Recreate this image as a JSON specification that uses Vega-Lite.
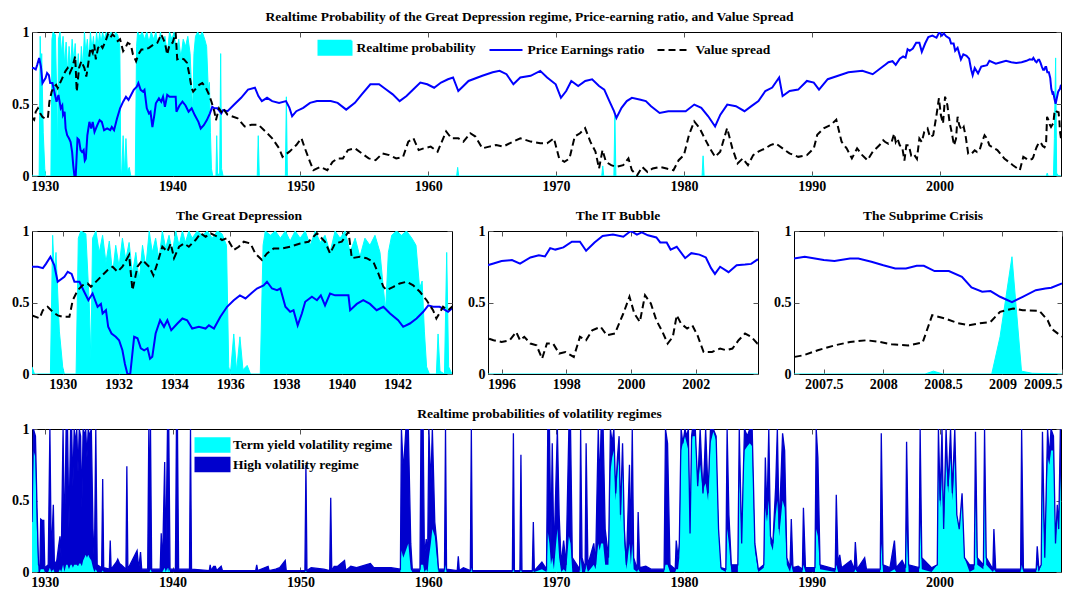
{
"$schema": "https://vega.github.io/schema/vega-lite/v6.json",
"background": "white",
"padding": {"left": 11, "top": 9, "right": 5, "bottom": 5},
"config": {
  "font": "Liberation Serif",
  "view": {"stroke": "black", "strokeWidth": 1},
  "axis": {"domain": false, "grid": false, "ticks": true, "tickSize": -5, "tickColor": "#555", "labelFont": "Liberation Serif", "labelFontSize": 14, "labelFontWeight": "bold", "labelColor": "#000", "title": null, "labelPadding": 8},
  "title": {"font": "Liberation Serif", "fontSize": 13.5, "fontWeight": "bold", "color": "#000", "offset": 2},
  "legend": {"labelFont": "Liberation Serif", "labelFontSize": 13.5, "labelFontWeight": "bold", "labelColor": "#000", "padding": 0}
},
"datasets": {
"pe": [
{"t":1928.90,"v":0.75},{"t":1929.11,"v":0.75},{"t":1929.29,"v":0.74},{"t":1929.40,"v":0.77},{"t":1929.56,"v":0.82},{"t":1929.70,"v":0.76},{"t":1929.82,"v":0.645},{"t":1930.06,"v":0.68},{"t":1930.18,"v":0.715},{"t":1930.32,"v":0.70},{"t":1930.42,"v":0.645},{"t":1930.60,"v":0.645},{"t":1930.77,"v":0.575},{"t":1930.92,"v":0.516},{"t":1931.07,"v":0.563},{"t":1931.25,"v":0.47},{"t":1931.37,"v":0.49},{"t":1931.43,"v":0.423},{"t":1931.55,"v":0.446},{"t":1931.63,"v":0.33},{"t":1931.75,"v":0.283},{"t":1931.90,"v":0.26},{"t":1932.02,"v":0.236},{"t":1932.14,"v":0.166},{"t":1932.23,"v":0.07},{"t":1932.32,"v":0.0},{"t":1932.42,"v":0.0},{"t":1932.56,"v":0.26},{"t":1932.68,"v":0.25},{"t":1932.80,"v":0.18},{"t":1932.92,"v":0.166},{"t":1933.04,"v":0.18},{"t":1933.13,"v":0.107},{"t":1933.21,"v":0.12},{"t":1933.33,"v":0.283},{"t":1933.49,"v":0.376},{"t":1933.63,"v":0.33},{"t":1933.75,"v":0.376},{"t":1933.89,"v":0.306},{"t":1934.11,"v":0.353},{"t":1934.29,"v":0.388},{"t":1934.46,"v":0.376},{"t":1934.64,"v":0.318},{"t":1934.88,"v":0.33},{"t":1935.12,"v":0.318},{"t":1935.24,"v":0.34},{"t":1935.42,"v":0.318},{"t":1935.65,"v":0.40},{"t":1935.89,"v":0.47},{"t":1936.13,"v":0.516},{"t":1936.35,"v":0.55},{"t":1936.55,"v":0.528},{"t":1936.75,"v":0.563},{"t":1936.96,"v":0.598},{"t":1937.20,"v":0.62},{"t":1937.32,"v":0.645},{"t":1937.50,"v":0.598},{"t":1937.68,"v":0.586},{"t":1937.80,"v":0.598},{"t":1937.98,"v":0.47},{"t":1938.15,"v":0.435},{"t":1938.27,"v":0.446},{"t":1938.42,"v":0.34},{"t":1938.57,"v":0.423},{"t":1938.69,"v":0.505},{"t":1938.93,"v":0.54},{"t":1939.11,"v":0.516},{"t":1939.25,"v":0.55},{"t":1939.40,"v":0.48},{"t":1939.58,"v":0.563},{"t":1939.76,"v":0.55},{"t":1939.94,"v":0.55},{"t":1940.24,"v":0.55},{"t":1940.30,"v":0.446},{"t":1940.54,"v":0.49},{"t":1940.77,"v":0.516},{"t":1941.01,"v":0.49},{"t":1941.25,"v":0.446},{"t":1941.49,"v":0.47},{"t":1941.73,"v":0.423},{"t":1942.02,"v":0.376},{"t":1942.20,"v":0.33},{"t":1942.44,"v":0.353},{"t":1942.68,"v":0.388},{"t":1942.92,"v":0.435},{"t":1943.10,"v":0.48},{"t":1943.27,"v":0.47},{"t":1943.51,"v":0.47},{"t":1943.81,"v":0.435},{"t":1943.95,"v":0.458},
{"t":1944.30,"v":0.45},{"t":1944.82,"v":0.496},{"t":1945.36,"v":0.543},{"t":1945.90,"v":0.60},{"t":1946.44,"v":0.613},{"t":1946.71,"v":0.555},{"t":1946.98,"v":0.52},{"t":1947.39,"v":0.543},{"t":1947.79,"v":0.52},{"t":1948.33,"v":0.508},{"t":1948.87,"v":0.52},{"t":1949.14,"v":0.473},{"t":1949.35,"v":0.415},{"t":1949.68,"v":0.45},{"t":1950.22,"v":0.473},{"t":1950.75,"v":0.508},{"t":1951.29,"v":0.52},{"t":1951.83,"v":0.52},{"t":1952.37,"v":0.52},{"t":1952.91,"v":0.508},{"t":1953.58,"v":0.461},{"t":1954.26,"v":0.508},{"t":1954.80,"v":0.567},{"t":1955.47,"v":0.637},{"t":1956.15,"v":0.637},{"t":1956.68,"v":0.602},{"t":1957.22,"v":0.567},{"t":1957.76,"v":0.52},{"t":1958.30,"v":0.555},{"t":1958.84,"v":0.602},{"t":1959.38,"v":0.649},{"t":1959.92,"v":0.637},{"t":1960.46,"v":0.613},{"t":1961.00,"v":0.649},{"t":1961.54,"v":0.672},{"t":1961.94,"v":0.684},{"t":1962.35,"v":0.59},{"t":1962.75,"v":0.625},{"t":1963.15,"v":0.66},{"t":1964.23,"v":0.696},{"t":1965.04,"v":0.72},{"t":1965.58,"v":0.73},{"t":1966.12,"v":0.707},{"t":1966.66,"v":0.637},{"t":1967.20,"v":0.684},{"t":1968.01,"v":0.696},{"t":1968.76,"v":0.73},
{"t":1969.30,"v":0.684},{"t":1969.97,"v":0.637},{"t":1970.38,"v":0.543},{"t":1970.79,"v":0.59},{"t":1971.19,"v":0.66},{"t":1971.73,"v":0.625},{"t":1972.28,"v":0.66},{"t":1972.82,"v":0.672},{"t":1973.36,"v":0.625},{"t":1973.77,"v":0.60},{"t":1974.17,"v":0.52},{"t":1974.53,"v":0.45},{"t":1974.72,"v":0.403},{"t":1975.12,"v":0.473},{"t":1975.53,"v":0.52},{"t":1975.93,"v":0.543},{"t":1976.61,"v":0.53},{"t":1977.02,"v":0.52},{"t":1977.43,"v":0.485},{"t":1978.10,"v":0.438},{"t":1978.78,"v":0.45},{"t":1979.46,"v":0.45},{"t":1980.14,"v":0.45},{"t":1980.81,"v":0.496},{"t":1981.36,"v":0.473},{"t":1981.90,"v":0.415},{"t":1982.44,"v":0.344},{"t":1982.85,"v":0.426},{"t":1983.39,"v":0.496},{"t":1984.07,"v":0.485},{"t":1984.74,"v":0.45},{"t":1985.28,"v":0.485},{"t":1985.83,"v":0.52},{"t":1986.37,"v":0.59},{"t":1986.91,"v":0.614},{"t":1987.45,"v":0.684},{"t":1987.72,"v":0.555},{"t":1988.27,"v":0.59},{"t":1988.94,"v":0.60},{"t":1989.62,"v":0.66},{"t":1990.16,"v":0.649},{"t":1990.57,"v":0.60},{"t":1991.25,"v":0.672},{"t":1992.06,"v":0.696},{"t":1992.87,"v":0.72},{"t":1993.96,"v":0.73},{"t":1994.77,"v":0.707},
{"t":1995.59,"v":0.762},{"t":1995.75,"v":0.773},{"t":1996.00,"v":0.79},{"t":1996.32,"v":0.797},{"t":1996.57,"v":0.772},{"t":1996.89,"v":0.815},{"t":1997.15,"v":0.83},{"t":1997.34,"v":0.822},{"t":1997.50,"v":0.88},{"t":1997.66,"v":0.87},{"t":1997.91,"v":0.885},{"t":1998.17,"v":0.925},{"t":1998.42,"v":0.925},{"t":1998.61,"v":0.862},{"t":1998.87,"v":0.92},{"t":1999.12,"v":0.965},{"t":1999.44,"v":0.975},{"t":1999.76,"v":0.96},{"t":1999.99,"v":1.0},{"t":2000.18,"v":0.975},{"t":2000.33,"v":0.99},{"t":2000.52,"v":0.97},{"t":2000.78,"v":0.955},{"t":2000.90,"v":0.92},{"t":2001.10,"v":0.92},{"t":2001.22,"v":0.87},{"t":2001.41,"v":0.89},{"t":2001.67,"v":0.81},{"t":2001.86,"v":0.845},{"t":2002.11,"v":0.835},{"t":2002.31,"v":0.815},{"t":2002.47,"v":0.74},{"t":2002.59,"v":0.70},{"t":2002.75,"v":0.75},{"t":2003.01,"v":0.712},{"t":2003.26,"v":0.76},{"t":2003.52,"v":0.765},{"t":2003.71,"v":0.77},{"t":2003.90,"v":0.80},
{"t":2004.40,"v":0.78},{"t":2004.80,"v":0.79},{"t":2005.20,"v":0.80},{"t":2005.61,"v":0.79},{"t":2006.00,"v":0.785},{"t":2006.42,"v":0.79},{"t":2006.80,"v":0.80},{"t":2007.05,"v":0.81},
{"t":2007.25,"v":0.808},{"t":2007.34,"v":0.82},{"t":2007.50,"v":0.797},{"t":2007.59,"v":0.79},{"t":2007.72,"v":0.808},{"t":2007.79,"v":0.808},{"t":2007.90,"v":0.785},{"t":2008.00,"v":0.76},{"t":2008.10,"v":0.738},{"t":2008.19,"v":0.738},{"t":2008.28,"v":0.757},{"t":2008.34,"v":0.757},{"t":2008.43,"v":0.72},{"t":2008.55,"v":0.72},{"t":2008.66,"v":0.68},{"t":2008.74,"v":0.605},{"t":2008.83,"v":0.575},{"t":2008.90,"v":0.58},{"t":2008.98,"v":0.54},{"t":2009.08,"v":0.502},{"t":2009.17,"v":0.54},{"t":2009.28,"v":0.586},{"t":2009.36,"v":0.598},{"t":2009.41,"v":0.603},{"t":2009.50,"v":0.633}
],
"vs": [
{"t":1928.90,"v":0.41},{"t":1929.17,"v":0.39},{"t":1929.29,"v":0.446},{"t":1929.46,"v":0.47},{"t":1929.64,"v":0.435},{"t":1929.82,"v":0.41},{"t":1930.00,"v":0.40},{"t":1930.24,"v":0.40},{"t":1930.36,"v":0.516},{"t":1930.54,"v":0.586},{"t":1930.71,"v":0.62},{"t":1930.89,"v":0.633},{"t":1931.01,"v":0.61},{"t":1931.13,"v":0.633},{"t":1931.37,"v":0.68},{"t":1931.61,"v":0.727},{"t":1931.79,"v":0.75},{"t":1931.96,"v":0.715},{"t":1932.14,"v":0.75},{"t":1932.38,"v":0.832},{"t":1932.50,"v":0.586},{"t":1932.68,"v":0.75},{"t":1932.86,"v":0.797},{"t":1933.10,"v":0.75},{"t":1933.25,"v":0.69},{"t":1933.39,"v":0.773},{"t":1933.57,"v":0.89},{"t":1933.75,"v":0.855},{"t":1933.87,"v":0.913},{"t":1933.99,"v":0.81},{"t":1934.17,"v":0.89},{"t":1934.35,"v":0.913},{"t":1934.52,"v":0.89},{"t":1934.76,"v":0.937},{"t":1934.94,"v":0.984},{"t":1935.12,"v":0.96},{"t":1935.30,"v":0.984},{"t":1935.54,"v":0.96},{"t":1935.71,"v":0.937},{"t":1935.89,"v":0.95},{"t":1936.13,"v":0.867},{"t":1936.31,"v":0.89},{"t":1936.49,"v":0.925},{"t":1936.73,"v":0.913},{"t":1936.90,"v":0.843},{"t":1937.14,"v":0.797},{"t":1937.32,"v":0.843},{"t":1937.56,"v":0.878},{"t":1937.86,"v":0.878},{"t":1938.15,"v":0.89},{"t":1938.51,"v":0.913},{"t":1938.81,"v":0.925},{"t":1939.11,"v":0.984},{"t":1939.40,"v":0.925},{"t":1939.58,"v":0.843},{"t":1939.76,"v":0.913},{"t":1940.00,"v":0.925},{"t":1940.24,"v":0.995},{"t":1940.36,"v":0.81},{"t":1940.65,"v":0.82},{"t":1940.89,"v":0.81},{"t":1941.13,"v":0.785},{"t":1941.31,"v":0.703},{"t":1941.49,"v":0.61},{"t":1941.61,"v":0.586},{"t":1941.85,"v":0.61},{"t":1942.08,"v":0.633},{"t":1942.32,"v":0.645},{"t":1942.56,"v":0.62},{"t":1942.80,"v":0.575},{"t":1943.04,"v":0.516},{"t":1943.27,"v":0.446},{"t":1943.39,"v":0.388},{"t":1943.63,"v":0.47},{"t":1943.81,"v":0.446},{"t":1943.95,"v":0.47},
{"t":1944.29,"v":0.426},{"t":1945.09,"v":0.40},{"t":1945.63,"v":0.344},{"t":1946.17,"v":0.356},{"t":1946.71,"v":0.356},{"t":1947.25,"v":0.31},{"t":1947.79,"v":0.262},{"t":1948.33,"v":0.192},{"t":1948.60,"v":0.133},{"t":1949.14,"v":0.169},{"t":1949.68,"v":0.215},{"t":1950.08,"v":0.262},{"t":1950.35,"v":0.192},{"t":1950.75,"v":0.098},{"t":1951.02,"v":0.04},{"t":1951.56,"v":0.063},{"t":1952.10,"v":0.04},{"t":1952.51,"v":0.098},{"t":1952.91,"v":0.122},{"t":1953.32,"v":0.122},{"t":1953.72,"v":0.18},{"t":1954.26,"v":0.192},{"t":1954.80,"v":0.157},{"t":1955.34,"v":0.122},{"t":1955.88,"v":0.11},{"t":1956.42,"v":0.157},{"t":1956.95,"v":0.145},{"t":1957.49,"v":0.122},{"t":1958.03,"v":0.133},{"t":1958.44,"v":0.239},{"t":1958.84,"v":0.262},{"t":1959.25,"v":0.18},{"t":1959.65,"v":0.192},{"t":1960.19,"v":0.204},{"t":1960.73,"v":0.169},{"t":1961.40,"v":0.31},{"t":1961.81,"v":0.262},{"t":1962.35,"v":0.262},{"t":1962.75,"v":0.239},{"t":1963.29,"v":0.297},{"t":1963.69,"v":0.274},{"t":1964.23,"v":0.192},{"t":1964.77,"v":0.204},{"t":1965.31,"v":0.215},{"t":1965.85,"v":0.204},{"t":1966.66,"v":0.239},{"t":1967.20,"v":0.262},{"t":1968.01,"v":0.239},{"t":1968.76,"v":0.227},
{"t":1969.30,"v":0.227},{"t":1969.83,"v":0.262},{"t":1970.24,"v":0.122},{"t":1970.65,"v":0.098},{"t":1971.05,"v":0.122},{"t":1971.46,"v":0.274},{"t":1971.87,"v":0.297},{"t":1972.27,"v":0.333},{"t":1972.68,"v":0.239},{"t":1973.08,"v":0.169},{"t":1973.36,"v":0.052},{"t":1973.63,"v":0.18},{"t":1973.90,"v":0.098},{"t":1974.31,"v":0.075},{"t":1974.71,"v":0.063},{"t":1975.25,"v":0.075},{"t":1975.66,"v":0.122},{"t":1975.93,"v":0.04},{"t":1976.34,"v":0.005},{"t":1976.74,"v":0.063},{"t":1977.15,"v":0.028},{"t":1977.56,"v":0.052},{"t":1978.10,"v":0.063},{"t":1978.64,"v":0.052},{"t":1979.18,"v":0.04},{"t":1979.59,"v":0.11},{"t":1980.00,"v":0.145},{"t":1980.40,"v":0.286},{"t":1980.81,"v":0.379},{"t":1981.22,"v":0.333},{"t":1981.62,"v":0.262},{"t":1982.03,"v":0.192},{"t":1982.44,"v":0.133},{"t":1982.84,"v":0.169},{"t":1983.38,"v":0.333},{"t":1983.79,"v":0.192},{"t":1984.20,"v":0.087},{"t":1984.60,"v":0.122},{"t":1985.01,"v":0.075},{"t":1985.42,"v":0.145},{"t":1985.82,"v":0.169},{"t":1986.37,"v":0.192},{"t":1986.77,"v":0.215},{"t":1987.18,"v":0.227},{"t":1987.72,"v":0.192},{"t":1988.26,"v":0.157},{"t":1988.94,"v":0.133},{"t":1989.62,"v":0.145},{"t":1990.16,"v":0.192},{"t":1990.43,"v":0.286},{"t":1990.97,"v":0.333},{"t":1991.51,"v":0.356},{"t":1991.92,"v":0.391},{"t":1992.33,"v":0.239},{"t":1992.73,"v":0.192},{"t":1993.14,"v":0.122},{"t":1993.55,"v":0.192},{"t":1993.95,"v":0.145},{"t":1994.36,"v":0.11},{"t":1994.77,"v":0.169},{"t":1995.31,"v":0.215},
{"t":1995.59,"v":0.248},{"t":1995.75,"v":0.236},{"t":1996.00,"v":0.224},{"t":1996.25,"v":0.236},{"t":1996.45,"v":0.294},{"t":1996.57,"v":0.236},{"t":1996.70,"v":0.26},{"t":1996.89,"v":0.213},{"t":1997.08,"v":0.20},{"t":1997.25,"v":0.107},{"t":1997.40,"v":0.213},{"t":1997.59,"v":0.213},{"t":1997.78,"v":0.143},{"t":1997.97,"v":0.154},{"t":1998.23,"v":0.119},{"t":1998.42,"v":0.26},{"t":1998.61,"v":0.236},{"t":1998.80,"v":0.306},{"t":1999.06,"v":0.33},{"t":1999.25,"v":0.27},{"t":1999.50,"v":0.283},{"t":1999.76,"v":0.423},{"t":1999.95,"v":0.54},{"t":2000.10,"v":0.423},{"t":2000.27,"v":0.364},{"t":2000.43,"v":0.551},{"t":2000.61,"v":0.493},{"t":2000.78,"v":0.376},{"t":2000.97,"v":0.294},{"t":2001.13,"v":0.213},{"t":2001.29,"v":0.26},{"t":2001.41,"v":0.411},{"t":2001.54,"v":0.353},{"t":2001.73,"v":0.318},{"t":2001.89,"v":0.341},{"t":2002.05,"v":0.271},{"t":2002.24,"v":0.154},{"t":2002.50,"v":0.154},{"t":2002.75,"v":0.178},{"t":2002.94,"v":0.166},{"t":2003.13,"v":0.178},{"t":2003.32,"v":0.236},{"t":2003.52,"v":0.283},{"t":2003.71,"v":0.26},{"t":2003.90,"v":0.213},
{"t":2004.52,"v":0.18},{"t":2005.06,"v":0.122},{"t":2005.74,"v":0.075},{"t":2006.28,"v":0.04},{"t":2006.55,"v":0.133},{"t":2006.96,"v":0.11},
{"t":2007.25,"v":0.119},{"t":2007.33,"v":0.131},{"t":2007.45,"v":0.166},{"t":2007.59,"v":0.20},{"t":2007.72,"v":0.224},{"t":2007.86,"v":0.236},{"t":2007.97,"v":0.224},{"t":2008.07,"v":0.208},{"t":2008.21,"v":0.20},{"t":2008.33,"v":0.22},{"t":2008.41,"v":0.411},{"t":2008.52,"v":0.388},{"t":2008.62,"v":0.357},{"t":2008.72,"v":0.341},{"t":2008.83,"v":0.357},{"t":2008.90,"v":0.364},{"t":2008.98,"v":0.435},{"t":2009.09,"v":0.458},{"t":2009.17,"v":0.446},{"t":2009.31,"v":0.442},{"t":2009.38,"v":0.376},{"t":2009.41,"v":0.318},{"t":2009.50,"v":0.26}
],
"gd": [
{"t":1928.90,"v":0.05},{"t":1928.99,"v":0.0},{"t":1929.56,"v":0.0},{"t":1929.64,"v":0.97},{"t":1929.70,"v":0.7},{"t":1929.76,"v":0.85},{"t":1929.88,"v":0.3},{"t":1930.00,"v":0.05},{"t":1930.06,"v":0.0},{"t":1930.48,"v":0.0},{"t":1930.56,"v":0.95},{"t":1930.65,"v":1.0},{"t":1930.83,"v":0.98},{"t":1930.95,"v":0.5},{"t":1931.01,"v":0.1},{"t":1931.07,"v":0.95},{"t":1931.19,"v":1.0},{"t":1931.31,"v":0.85},{"t":1931.43,"v":0.97},{"t":1931.55,"v":0.78},{"t":1931.67,"v":0.93},{"t":1931.79,"v":0.7},{"t":1931.90,"v":0.9},{"t":1932.02,"v":0.75},{"t":1932.14,"v":0.95},{"t":1932.26,"v":0.8},{"t":1932.38,"v":0.92},{"t":1932.50,"v":0.7},{"t":1932.62,"v":0.85},{"t":1932.74,"v":0.65},{"t":1932.86,"v":0.9},{"t":1932.98,"v":0.75},{"t":1933.10,"v":1.0},{"t":1933.21,"v":0.85},{"t":1933.33,"v":0.95},{"t":1933.45,"v":0.8},{"t":1933.57,"v":1.0},{"t":1933.69,"v":0.88},{"t":1933.81,"v":0.97},{"t":1933.93,"v":0.85},{"t":1934.05,"v":1.0},{"t":1934.17,"v":0.9},{"t":1934.29,"v":1.0},{"t":1934.40,"v":0.92},{"t":1934.52,"v":1.0},{"t":1934.64,"v":0.95},{"t":1934.82,"v":1.0},{"t":1935.00,"v":0.97},{"t":1935.18,"v":1.0},{"t":1935.36,"v":0.95},{"t":1935.54,"v":1.0},{"t":1935.71,"v":0.98},{"t":1935.87,"v":0.9},{"t":1935.95,"v":0.05},{"t":1936.01,"v":0.0},{"t":1936.13,"v":0.28},{"t":1936.23,"v":0.02},{"t":1936.35,"v":0.26},{"t":1936.46,"v":0.03},{"t":1936.61,"v":0.06},{"t":1936.73,"v":0.0},{"t":1937.08,"v":0.0},{"t":1937.18,"v":0.9},{"t":1937.26,"v":1.0},{"t":1937.44,"v":0.97},{"t":1937.62,"v":1.0},{"t":1937.80,"v":0.95},{"t":1937.98,"v":1.0},{"t":1938.15,"v":0.93},{"t":1938.33,"v":1.0},{"t":1938.51,"v":0.95},{"t":1938.69,"v":1.0},{"t":1938.87,"v":0.9},{"t":1939.05,"v":1.0},{"t":1939.23,"v":0.92},{"t":1939.40,"v":0.97},{"t":1939.58,"v":0.85},{"t":1939.76,"v":1.0},{"t":1939.94,"v":0.95},{"t":1940.12,"v":1.0},{"t":1940.30,"v":0.85},{"t":1940.48,"v":0.95},{"t":1940.65,"v":0.82},{"t":1940.83,"v":0.95},{"t":1941.01,"v":0.9},{"t":1941.19,"v":0.97},{"t":1941.37,"v":0.85},{"t":1941.49,"v":0.6},{"t":1941.57,"v":0.45},{"t":1941.67,"v":0.85},{"t":1941.79,"v":0.97},{"t":1941.96,"v":1.0},{"t":1942.14,"v":0.97},{"t":1942.32,"v":1.0},{"t":1942.51,"v":0.95},{"t":1942.66,"v":0.9},{"t":1942.79,"v":0.6},{"t":1942.88,"v":0.65},{"t":1942.96,"v":0.3},{"t":1943.04,"v":0.05},{"t":1943.14,"v":0.0},{"t":1943.39,"v":0.0},{"t":1943.45,"v":0.28},{"t":1943.52,"v":0.02},{"t":1943.68,"v":0.0},{"t":1943.76,"v":0.85},{"t":1943.83,"v":0.05},{"t":1943.95,"v":0.0},
{"t":1946.62,"v":0.0},{"t":1946.70,"v":0.28},{"t":1946.78,"v":0.0},{"t":1948.82,"v":0.0},{"t":1948.90,"v":0.55},{"t":1948.98,"v":0.0},{"t":1962.22,"v":0.0},{"t":1962.30,"v":0.06},{"t":1962.38,"v":0.0},{"t":1973.57,"v":0.0},{"t":1973.65,"v":0.07},{"t":1973.73,"v":0.0},{"t":1974.52,"v":0.0},{"t":1974.60,"v":0.42},{"t":1974.68,"v":0.0},{"t":1981.42,"v":0.0},{"t":1981.50,"v":0.14},{"t":1981.58,"v":0.0},{"t":2008.35,"v":0.0},{"t":2008.42,"v":0.02},{"t":2008.50,"v":0.0},{"t":2008.91,"v":0.0},{"t":2008.98,"v":0.26},{"t":2009.08,"v":0.82},{"t":2009.16,"v":0.02},{"t":2009.25,"v":0.005},{"t":2009.50,"v":0.0}
],
"vol": [
{"t":1929.00,"hv":0.35,"ty":0.33},{"t":1929.11,"hv":1.0,"ty":0.85},{"t":1929.27,"hv":0.95,"ty":0.8},{"t":1929.38,"hv":0.5,"ty":0.3},{"t":1929.51,"hv":0.05,"ty":0},{"t":1929.62,"hv":0.04,"ty":0},{"t":1929.68,"hv":0.37,"ty":0.02},{"t":1929.81,"hv":0.36,"ty":0.02},{"t":1929.92,"hv":0.36,"ty":0.02},{"t":1930.00,"hv":0.03,"ty":0},{"t":1930.27,"hv":0.05,"ty":0},{"t":1930.40,"hv":1.0,"ty":0.03},{"t":1930.51,"hv":0.1,"ty":0},{"t":1930.67,"hv":0.47,"ty":0.02},{"t":1930.75,"hv":0.05,"ty":0},{"t":1930.94,"hv":0.08,"ty":0},{"t":1931.08,"hv":0.18,"ty":0},{"t":1931.19,"hv":0.25,"ty":0.02},{"t":1931.29,"hv":0.1,"ty":0},{"t":1931.43,"hv":1.0,"ty":0.05},{"t":1931.54,"hv":0.2,"ty":0},{"t":1931.67,"hv":1.0,"ty":0.05},{"t":1931.78,"hv":1.0,"ty":0.05},{"t":1931.89,"hv":0.3,"ty":0.02},{"t":1932.02,"hv":1.0,"ty":0.05},{"t":1932.10,"hv":1.0,"ty":0.05},{"t":1932.20,"hv":0.6,"ty":0.03},{"t":1932.30,"hv":1.0,"ty":0.05},{"t":1932.40,"hv":0.9,"ty":0.05},{"t":1932.50,"hv":1.0,"ty":0.05},{"t":1932.60,"hv":0.7,"ty":0.04},{"t":1932.70,"hv":1.0,"ty":0.06},{"t":1932.80,"hv":0.95,"ty":0.06},{"t":1932.90,"hv":0.45,"ty":0.04},{"t":1933.00,"hv":1.0,"ty":0.08},{"t":1933.10,"hv":0.95,"ty":0.1},{"t":1933.20,"hv":1.0,"ty":0.12},{"t":1933.30,"hv":0.8,"ty":0.1},{"t":1933.40,"hv":1.0,"ty":0.12},{"t":1933.50,"hv":0.95,"ty":0.1},{"t":1933.64,"hv":1.0,"ty":0.08},{"t":1933.77,"hv":0.3,"ty":0.03},{"t":1933.88,"hv":0.05,"ty":0},{"t":1933.99,"hv":1.0,"ty":0.02},{"t":1934.10,"hv":0.05,"ty":0},{"t":1934.45,"hv":0.03,"ty":0},{"t":1934.53,"hv":0.65,"ty":0.01},{"t":1934.61,"hv":0.03,"ty":0},{"t":1935.05,"hv":0.02,"ty":0},{"t":1935.12,"hv":0.22,"ty":0},{"t":1935.19,"hv":0.02,"ty":0},{"t":1935.61,"hv":0.07,"ty":0},{"t":1935.71,"hv":0.09,"ty":0},{"t":1935.85,"hv":0.06,"ty":0},{"t":1935.98,"hv":0.05,"ty":0},{"t":1936.35,"hv":0.02,"ty":0},{"t":1936.42,"hv":0.74,"ty":0},{"t":1936.50,"hv":0.02,"ty":0},{"t":1937.22,"hv":0.15,"ty":0},{"t":1937.35,"hv":0.02,"ty":0},{"t":1937.49,"hv":0.14,"ty":0},{"t":1937.58,"hv":0.02,"ty":0},{"t":1938.05,"hv":0.02,"ty":0},{"t":1938.14,"hv":1.0,"ty":0},{"t":1938.20,"hv":0.3,"ty":0},{"t":1938.27,"hv":1.0,"ty":0.02},{"t":1938.36,"hv":0.02,"ty":0},{"t":1939.03,"hv":0.02,"ty":0},{"t":1939.11,"hv":0.27,"ty":0},{"t":1939.20,"hv":0.02,"ty":0},{"t":1939.38,"hv":0.77,"ty":0.03},{"t":1939.46,"hv":0.05,"ty":0},{"t":1939.60,"hv":1.0,"ty":0.03},{"t":1939.65,"hv":0.6,"ty":0},{"t":1939.70,"hv":1.0,"ty":0.03},{"t":1939.80,"hv":0.02,"ty":0},{"t":1940.22,"hv":0.02,"ty":0},{"t":1940.30,"hv":1.0,"ty":0},{"t":1940.34,"hv":0.5,"ty":0},{"t":1940.38,"hv":1.0,"ty":0},{"t":1940.47,"hv":0.02,"ty":0},{"t":1941.32,"hv":0.02,"ty":0},{"t":1941.40,"hv":1.0,"ty":0},{"t":1941.48,"hv":0.02,"ty":0},{"t":1942.87,"hv":0.01,"ty":0},{"t":1942.94,"hv":0.05,"ty":0},{"t":1943.01,"hv":0.01,"ty":0},{"t":1943.21,"hv":0.04,"ty":0},{"t":1943.34,"hv":0.04,"ty":0},{"t":1943.45,"hv":0.01,"ty":0},{"t":1943.80,"hv":0.04,"ty":0},{"t":1943.90,"hv":0.01,"ty":0},{"t":1946.50,"hv":0.01,"ty":0},{"t":1946.58,"hv":0.05,"ty":0},{"t":1946.66,"hv":0.01,"ty":0},{"t":1947.47,"hv":0.04,"ty":0},{"t":1947.55,"hv":0.01,"ty":0},{"t":1948.06,"hv":0.02,"ty":0},{"t":1948.38,"hv":0.03,"ty":0},{"t":1948.81,"hv":0.08,"ty":0},{"t":1948.89,"hv":0.01,"ty":0},{"t":1950.35,"hv":0.01,"ty":0},{"t":1950.43,"hv":0.75,"ty":0.01},{"t":1950.51,"hv":0.01,"ty":0},{"t":1950.84,"hv":0.03,"ty":0},{"t":1951.83,"hv":0.02,"ty":0},{"t":1952.29,"hv":0.01,"ty":0},{"t":1952.37,"hv":0.52,"ty":0},{"t":1952.45,"hv":0.01,"ty":0},{"t":1952.64,"hv":0.04,"ty":0},{"t":1952.91,"hv":0.04,"ty":0},{"t":1953.45,"hv":0.08,"ty":0},{"t":1953.55,"hv":0.01,"ty":0},{"t":1953.94,"hv":0.04,"ty":0},{"t":1954.39,"hv":0.03,"ty":0},{"t":1955.47,"hv":0.06,"ty":0},{"t":1955.74,"hv":0.03,"ty":0},{"t":1957.09,"hv":0.03,"ty":0},{"t":1957.82,"hv":0.02,"ty":0},{"t":1957.90,"hv":1.0,"ty":0.15},{"t":1958.05,"hv":0.7,"ty":0.1},{"t":1958.25,"hv":1.0,"ty":0.15},{"t":1958.44,"hv":1.0,"ty":0.2},{"t":1958.63,"hv":0.2,"ty":0.02},{"t":1958.75,"hv":0.02,"ty":0},{"t":1959.35,"hv":0.02,"ty":0},{"t":1959.43,"hv":1.0,"ty":0.05},{"t":1959.60,"hv":1.0,"ty":0.05},{"t":1959.70,"hv":0.1,"ty":0},{"t":1959.84,"hv":0.23,"ty":0.02},{"t":1959.95,"hv":0.1,"ty":0},{"t":1960.05,"hv":1.0,"ty":0.1},{"t":1960.20,"hv":0.6,"ty":0.2},{"t":1960.32,"hv":1.0,"ty":0.3},{"t":1960.51,"hv":0.35,"ty":0.25},{"t":1960.67,"hv":0.2,"ty":0.1},{"t":1960.80,"hv":0.02,"ty":0},{"t":1961.27,"hv":0.02,"ty":0},{"t":1961.35,"hv":1.0,"ty":0.05},{"t":1961.43,"hv":0.02,"ty":0},{"t":1962.27,"hv":0.01,"ty":0},{"t":1962.35,"hv":0.11,"ty":0},{"t":1962.43,"hv":0.01,"ty":0},{"t":1962.75,"hv":0.03,"ty":0},{"t":1963.29,"hv":0.01,"ty":0},{"t":1963.37,"hv":1.0,"ty":0.03},{"t":1963.45,"hv":0.01,"ty":0},{"t":1966.58,"hv":0.01,"ty":0},{"t":1966.66,"hv":0.97,"ty":0.02},{"t":1966.74,"hv":0.01,"ty":0},{"t":1967.17,"hv":0.01,"ty":0},{"t":1967.25,"hv":0.82,"ty":0.02},{"t":1967.33,"hv":0.01,"ty":0},{"t":1968.14,"hv":0.01,"ty":0},{"t":1968.22,"hv":0.35,"ty":0.01},{"t":1968.30,"hv":0.01,"ty":0},
{"t":1968.89,"hv":0.07,"ty":0.02},{"t":1969.25,"hv":0.02,"ty":0},{"t":1969.35,"hv":1.0,"ty":0.28},{"t":1969.48,"hv":1.0,"ty":0.2},{"t":1969.60,"hv":0.2,"ty":0.05},{"t":1969.70,"hv":0.9,"ty":0.1},{"t":1969.83,"hv":0.1,"ty":0.02},{"t":1970.10,"hv":1.0,"ty":0.3},{"t":1970.24,"hv":0.4,"ty":0.1},{"t":1970.40,"hv":0.05,"ty":0},{"t":1970.59,"hv":0.22,"ty":0.02},{"t":1970.78,"hv":0.05,"ty":0},{"t":1971.00,"hv":1.0,"ty":0.25},{"t":1971.13,"hv":1.0,"ty":0.2},{"t":1971.27,"hv":0.1,"ty":0},{"t":1971.84,"hv":0.02,"ty":0},{"t":1971.92,"hv":1.0,"ty":0.1},{"t":1972.03,"hv":0.1,"ty":0},{"t":1972.27,"hv":0.02,"ty":0},{"t":1972.35,"hv":0.9,"ty":0.05},{"t":1972.49,"hv":0.05,"ty":0},{"t":1972.95,"hv":0.2,"ty":0.05},{"t":1973.09,"hv":0.05,"ty":0.02},{"t":1973.30,"hv":1.0,"ty":0.2},{"t":1973.41,"hv":0.6,"ty":0.15},{"t":1973.52,"hv":1.0,"ty":0.2},{"t":1973.68,"hv":1.0,"ty":0.2},{"t":1973.84,"hv":0.3,"ty":0.05},{"t":1974.10,"hv":0.1,"ty":0.05},{"t":1974.25,"hv":1.0,"ty":0.7},{"t":1974.39,"hv":0.9,"ty":0.8},{"t":1974.52,"hv":1.0,"ty":0.85},{"t":1974.66,"hv":0.55,"ty":0.5},{"t":1974.80,"hv":0.8,"ty":0.7},{"t":1974.93,"hv":0.95,"ty":0.8},{"t":1975.04,"hv":0.4,"ty":0.35},{"t":1975.20,"hv":0.9,"ty":0.75},{"t":1975.34,"hv":0.3,"ty":0.2},{"t":1975.50,"hv":0.05,"ty":0.02},{"t":1975.74,"hv":0.75,"ty":0.2},{"t":1975.85,"hv":0.2,"ty":0.05},{"t":1975.96,"hv":1.0,"ty":0.2},{"t":1976.07,"hv":0.1,"ty":0.02},{"t":1976.34,"hv":0.02,"ty":0},{"t":1976.42,"hv":0.42,"ty":0.02},{"t":1976.55,"hv":0.03,"ty":0},{"t":1977.02,"hv":0.04,"ty":0},{"t":1977.42,"hv":0.02,"ty":0},{"t":1978.10,"hv":0.02,"ty":0},{"t":1978.45,"hv":0.02,"ty":0},{"t":1978.56,"hv":1.0,"ty":0.05},{"t":1978.72,"hv":0.9,"ty":0.05},{"t":1978.91,"hv":0.05,"ty":0},{"t":1979.32,"hv":0.02,"ty":0},{"t":1979.40,"hv":0.22,"ty":0.02},{"t":1979.54,"hv":0.1,"ty":0.02},{"t":1979.64,"hv":0.2,"ty":0.1},{"t":1979.78,"hv":1.0,"ty":0.85},{"t":1979.92,"hv":0.9,"ty":0.9},{"t":1980.08,"hv":1.0,"ty":0.95},{"t":1980.22,"hv":0.95,"ty":0.9},{"t":1980.35,"hv":1.0,"ty":0.85},{"t":1980.48,"hv":0.27,"ty":0.27},{"t":1980.60,"hv":0.95,"ty":0.9},{"t":1980.67,"hv":1.0,"ty":0.95},{"t":1980.89,"hv":1.0,"ty":0.95},{"t":1981.08,"hv":0.6,"ty":0.6},{"t":1981.27,"hv":1.0,"ty":0.75},{"t":1981.49,"hv":0.55,"ty":0.55},{"t":1981.60,"hv":0.75,"ty":0.6},{"t":1981.70,"hv":1.0,"ty":0.62},{"t":1981.89,"hv":0.55,"ty":0.5},{"t":1982.08,"hv":1.0,"ty":0.9},{"t":1982.30,"hv":1.0,"ty":0.98},{"t":1982.52,"hv":0.95,"ty":0.92},{"t":1982.71,"hv":0.3,"ty":0.3},{"t":1982.90,"hv":0.03,"ty":0.02},{"t":1983.28,"hv":0.02,"ty":0},{"t":1983.38,"hv":1.0,"ty":0.3},{"t":1983.52,"hv":0.4,"ty":0.2},{"t":1983.71,"hv":0.05,"ty":0},{"t":1984.22,"hv":0.05,"ty":0},{"t":1984.33,"hv":1.0,"ty":0.7},{"t":1984.52,"hv":0.2,"ty":0.2},{"t":1984.62,"hv":0.6,"ty":0.6},{"t":1984.74,"hv":1.0,"ty":0.85},{"t":1984.96,"hv":0.95,"ty":0.88},{"t":1985.15,"hv":1.0,"ty":0.9},{"t":1985.34,"hv":1.0,"ty":0.88},{"t":1985.55,"hv":0.2,"ty":0.15},{"t":1985.82,"hv":0.02,"ty":0},{"t":1986.25,"hv":0.05,"ty":0.03},{"t":1986.37,"hv":0.8,"ty":0.45},{"t":1986.50,"hv":0.4,"ty":0.35},{"t":1986.64,"hv":1.0,"ty":0.5},{"t":1986.77,"hv":0.25,"ty":0.2},{"t":1986.96,"hv":0.2,"ty":0.15},{"t":1987.18,"hv":0.6,"ty":0.4},{"t":1987.31,"hv":1.0,"ty":0.5},{"t":1987.45,"hv":0.3,"ty":0.25},{"t":1987.72,"hv":0.97,"ty":0.5},{"t":1987.88,"hv":0.85,"ty":0.45},{"t":1988.05,"hv":0.1,"ty":0.05},{"t":1988.30,"hv":0.03,"ty":0},{"t":1988.40,"hv":0.37,"ty":0.05},{"t":1988.53,"hv":0.03,"ty":0},{"t":1988.94,"hv":0.04,"ty":0},{"t":1989.27,"hv":0.02,"ty":0},{"t":1989.35,"hv":0.45,"ty":0.05},{"t":1989.51,"hv":0.03,"ty":0},{"t":1990.25,"hv":0.03,"ty":0},{"t":1990.35,"hv":1.0,"ty":0.3},{"t":1990.48,"hv":0.8,"ty":0.25},{"t":1990.65,"hv":0.05,"ty":0.02},{"t":1991.84,"hv":0.02,"ty":0},{"t":1991.92,"hv":0.54,"ty":0.05},{"t":1992.06,"hv":0.05,"ty":0},{"t":1992.19,"hv":0.12,"ty":0},{"t":1992.33,"hv":0.03,"ty":0},{"t":1993.06,"hv":0.08,"ty":0},{"t":1993.33,"hv":0.02,"ty":0},{"t":1993.41,"hv":0.21,"ty":0.02},{"t":1993.55,"hv":0.02,"ty":0},{"t":1994.14,"hv":0.1,"ty":0},{"t":1994.28,"hv":0.02,"ty":0},{"t":1995.36,"hv":0.02,"ty":0},{"t":1995.44,"hv":0.97,"ty":0.2},{"t":1995.58,"hv":0.05,"ty":0},{"t":1996.12,"hv":0.03,"ty":0},{"t":1996.47,"hv":0.22,"ty":0.02},{"t":1996.61,"hv":0.03,"ty":0},{"t":1997.07,"hv":0.08,"ty":0},{"t":1997.34,"hv":0.03,"ty":0},{"t":1997.42,"hv":0.91,"ty":0.3},{"t":1997.58,"hv":0.05,"ty":0},{"t":1998.40,"hv":0.03,"ty":0},{"t":1998.48,"hv":1.0,"ty":0.35},{"t":1998.61,"hv":0.1,"ty":0.02},{"t":1999.37,"hv":0.03,"ty":0},{"t":1999.82,"hv":0.05,"ty":0.05},{"t":1999.91,"hv":1.0,"ty":0.7},{"t":2000.05,"hv":0.5,"ty":0.45},{"t":2000.19,"hv":1.0,"ty":0.7},{"t":2000.32,"hv":0.3,"ty":0.3},{"t":2000.51,"hv":1.0,"ty":0.8},{"t":2000.67,"hv":0.6,"ty":0.55},{"t":2000.86,"hv":1.0,"ty":0.8},{"t":2001.00,"hv":0.55,"ty":0.5},{"t":2001.19,"hv":1.0,"ty":0.8},{"t":2001.35,"hv":0.4,"ty":0.4},{"t":2001.54,"hv":0.3,"ty":0.3},{"t":2001.76,"hv":0.55,"ty":0.5},{"t":2001.95,"hv":0.1,"ty":0.1},{"t":2002.35,"hv":0.05,"ty":0},{"t":2002.72,"hv":0.05,"ty":0.02},{"t":2002.81,"hv":0.98,"ty":0.5},{"t":2002.95,"hv":0.1,"ty":0.05},{"t":2003.43,"hv":0.05,"ty":0.02},{"t":2003.52,"hv":1.0,"ty":0.6},{"t":2003.65,"hv":0.1,"ty":0.05},{"t":2004.17,"hv":0.02,"ty":0},{"t":2004.25,"hv":0.3,"ty":0.02},{"t":2004.39,"hv":0.02,"ty":0},{"t":2006.34,"hv":0.02,"ty":0},{"t":2006.42,"hv":1.0,"ty":0.05},{"t":2006.56,"hv":0.02,"ty":0},{"t":2007.56,"hv":0.02,"ty":0},{"t":2007.64,"hv":0.18,"ty":0.05},{"t":2007.77,"hv":0.02,"ty":0},{"t":2007.95,"hv":0.05,"ty":0.05},{"t":2008.05,"hv":0.98,"ty":0.6},{"t":2008.23,"hv":0.1,"ty":0.1},{"t":2008.45,"hv":1.0,"ty":0.8},{"t":2008.59,"hv":0.8,"ty":0.75},{"t":2008.72,"hv":1.0,"ty":0.85},{"t":2008.91,"hv":0.95,"ty":0.85},{"t":2009.07,"hv":0.2,"ty":0.2},{"t":2009.21,"hv":0.47,"ty":0.4},{"t":2009.32,"hv":0.3,"ty":0.3},{"t":2009.45,"hv":1.0,"ty":0.7},{"t":2009.54,"hv":0.5,"ty":0.45}
]
},
"vconcat": [
{
  "title": {"text": "Realtime Probability of the Great Depression regime, Price-earning ratio, and Value Spread", "dx": -17},
  "width": 1029, "height": 144,
  "resolve": {"axis": {"x": "independent", "y": "independent"}},
  "layer": [
    {"data": {"name": "gd"}, "mark": {"type": "area", "clip": true, "opacity": 1, "line": {"strokeWidth": 1}},
     "encoding": {
       "x": {"field": "t", "type": "quantitative", "scale": {"domain": [1929.0, 2009.5], "nice": false, "zero": false}, "axis": {"values": [1930, 1940, 1950, 1960, 1970, 1980, 1990, 2000], "format": "d"}},
       "y": {"field": "v", "type": "quantitative", "scale": {"domain": [0, 1], "nice": false}, "axis": {"values": [0, 0.5, 1], "format": "~g"}},
       "color": {"datum": "Realtime probability",
       "scale": {"domain": ["Realtime probability", "Price Earnings ratio", "Value spread"], "range": ["#00ffff", "#0000ff", "#000000"]},
       "legend": {"orient": "none", "legendX": 285.5, "legendY": -2, "direction": "horizontal", "title": null, "symbolSize": 1089, "symbolStrokeWidth": 2, "columnPadding": 9, "labelOffset": 4,
         "encode": {"symbols": {"update": {
           "shape": {"signal": "datum.value === 'Realtime probability' ? 'M-1,-0.42H1V0.42H-1Z' : 'stroke'"},
           "fill": {"signal": "datum.value === 'Realtime probability' ? '#00ffff' : 'transparent'"},
           "stroke": {"signal": "datum.value === 'Realtime probability' ? 'transparent' : (datum.value === 'Value spread' ? '#000000' : '#0000ff')"},
           "strokeDash": {"signal": "datum.value === 'Value spread' ? [7,4] : [1,0]"},
           "strokeWidth": {"value": 2},
           "opacity": {"value": 1}
         }}}}}}},
    {"data": {"name": "pe"}, "mark": {"type": "line", "clip": true, "strokeWidth": 2},
     "encoding": {
       "x": {"field": "t", "type": "quantitative", "scale": {"domain": [1929.0, 2009.5], "nice": false, "zero": false}, "axis": {"orient": "top", "labels": false, "values": [1930, 1940, 1950, 1960, 1970, 1980, 1990, 2000]}},
       "y": {"field": "v", "type": "quantitative", "scale": {"domain": [0, 1], "nice": false}, "axis": {"orient": "right", "labels": false, "values": [0, 0.5, 1]}},
       "color": {"datum": "Price Earnings ratio"}}},
    {"data": {"name": "vs"}, "mark": {"type": "line", "clip": true, "strokeWidth": 2, "strokeDash": [7, 4]},
     "encoding": {
       "x": {"field": "t", "type": "quantitative", "scale": {"domain": [1929.0, 2009.5], "nice": false, "zero": false}, "axis": null},
       "y": {"field": "v", "type": "quantitative", "scale": {"domain": [0, 1], "nice": false}, "axis": null},
       "color": {"datum": "Value spread"}}}
  ]
},
{
  "hconcat": [
    {
      "title": {"text": "The Great Depression", "dx": -3}, "width": 420, "height": 143,
      "resolve": {"axis": {"x": "independent", "y": "independent"}},
      "layer": [
        {"data": {"name": "gd"}, "mark": {"type": "area", "clip": true, "color": "#00ffff", "opacity": 1, "line": {"color": "#00ffff", "strokeWidth": 1}},
         "encoding": {
           "x": {"field": "t", "type": "quantitative", "scale": {"domain": [1928.9, 1943.95], "nice": false, "zero": false}, "axis": {"values": [1930, 1932, 1934, 1936, 1938, 1940, 1942], "format": "d"}},
           "y": {"field": "v", "type": "quantitative", "scale": {"domain": [0, 1], "nice": false}, "axis": {"values": [0, 0.5, 1], "format": "~g"}}}},
        {"data": {"name": "pe"}, "mark": {"type": "line", "clip": true, "color": "#0000ff", "strokeWidth": 2},
         "encoding": {
           "x": {"field": "t", "type": "quantitative", "scale": {"domain": [1928.9, 1943.95], "nice": false, "zero": false}, "axis": {"orient": "top", "labels": false, "values": [1930, 1932, 1934, 1936, 1938, 1940, 1942]}},
           "y": {"field": "v", "type": "quantitative", "scale": {"domain": [0, 1], "nice": false}, "axis": {"orient": "right", "labels": false, "values": [0, 0.5, 1]}}}},
        {"data": {"name": "vs"}, "mark": {"type": "line", "clip": true, "color": "#000000", "strokeWidth": 2, "strokeDash": [7, 4]},
         "encoding": {
           "x": {"field": "t", "type": "quantitative", "scale": {"domain": [1928.9, 1943.95], "nice": false, "zero": false}, "axis": null},
           "y": {"field": "v", "type": "quantitative", "scale": {"domain": [0, 1], "nice": false}, "axis": null}}}
      ]
    },
    {
      "title": {"text": "The IT Bubble", "dx": -5}, "width": 270, "height": 143,
      "resolve": {"axis": {"x": "independent", "y": "independent"}},
      "layer": [
        {"data": {"name": "gd"}, "mark": {"type": "area", "clip": true, "color": "#00ffff", "opacity": 1, "line": {"color": "#00ffff", "strokeWidth": 1}},
         "encoding": {
           "x": {"field": "t", "type": "quantitative", "scale": {"domain": [1995.58, 2003.92], "nice": false, "zero": false}, "axis": {"values": [1996, 1998, 2000, 2002], "format": "d"}},
           "y": {"field": "v", "type": "quantitative", "scale": {"domain": [0, 1], "nice": false}, "axis": {"values": [0, 0.5, 1], "format": "~g"}}}},
        {"data": {"name": "pe"}, "mark": {"type": "line", "clip": true, "color": "#0000ff", "strokeWidth": 2},
         "encoding": {
           "x": {"field": "t", "type": "quantitative", "scale": {"domain": [1995.58, 2003.92], "nice": false, "zero": false}, "axis": {"orient": "top", "labels": false, "values": [1996, 1998, 2000, 2002]}},
           "y": {"field": "v", "type": "quantitative", "scale": {"domain": [0, 1], "nice": false}, "axis": {"orient": "right", "labels": false, "values": [0, 0.5, 1]}}}},
        {"data": {"name": "vs"}, "mark": {"type": "line", "clip": true, "color": "#000000", "strokeWidth": 2, "strokeDash": [7, 4]},
         "encoding": {
           "x": {"field": "t", "type": "quantitative", "scale": {"domain": [1995.58, 2003.92], "nice": false, "zero": false}, "axis": null},
           "y": {"field": "v", "type": "quantitative", "scale": {"domain": [0, 1], "nice": false}, "axis": null}}}
      ]
    },
    {
      "title": {"text": "The Subprime Crisis", "dx": -5}, "width": 268, "height": 143,
      "resolve": {"axis": {"x": "independent", "y": "independent"}},
      "layer": [
        {"data": {"name": "gd"}, "mark": {"type": "area", "clip": true, "color": "#00ffff", "opacity": 1, "line": {"color": "#00ffff", "strokeWidth": 1}},
         "encoding": {
           "x": {"field": "t", "type": "quantitative", "scale": {"domain": [2007.25, 2009.5], "nice": false, "zero": false}, "axis": {"values": [2007.5, 2008, 2008.5, 2009, 2009.5], "format": "~f"}},
           "y": {"field": "v", "type": "quantitative", "scale": {"domain": [0, 1], "nice": false}, "axis": {"values": [0, 0.5, 1], "format": "~g"}}}},
        {"data": {"name": "pe"}, "mark": {"type": "line", "clip": true, "color": "#0000ff", "strokeWidth": 2},
         "encoding": {
           "x": {"field": "t", "type": "quantitative", "scale": {"domain": [2007.25, 2009.5], "nice": false, "zero": false}, "axis": {"orient": "top", "labels": false, "values": [2007.5, 2008, 2008.5, 2009, 2009.5]}},
           "y": {"field": "v", "type": "quantitative", "scale": {"domain": [0, 1], "nice": false}, "axis": {"orient": "right", "labels": false, "values": [0, 0.5, 1]}}}},
        {"data": {"name": "vs"}, "mark": {"type": "line", "clip": true, "color": "#000000", "strokeWidth": 2, "strokeDash": [7, 4]},
         "encoding": {
           "x": {"field": "t", "type": "quantitative", "scale": {"domain": [2007.25, 2009.5], "nice": false, "zero": false}, "axis": null},
           "y": {"field": "v", "type": "quantitative", "scale": {"domain": [0, 1], "nice": false}, "axis": null}}}
      ]
    }
  ],
  "spacing": 36,
  "bounds": "flush",
  "resolve": {"scale": {"x": "independent", "y": "independent"}}
},
{
  "title": {"text": "Realtime probabilities of volatility regimes", "dx": -7},
  "width": 1029, "height": 143,
  "data": {"name": "vol"},
  "resolve": {"axis": {"x": "independent", "y": "independent"}},
  "layer": [
    {"mark": {"type": "area", "clip": true, "opacity": 1},
     "encoding": {
       "x": {"field": "t", "type": "quantitative", "scale": {"domain": [1929.0, 2009.5], "nice": false, "zero": false}, "axis": {"values": [1930, 1940, 1950, 1960, 1970, 1980, 1990, 2000], "format": "d"}},
       "y": {"field": "hv", "type": "quantitative", "scale": {"domain": [0, 1], "nice": false}, "axis": {"values": [0, 0.5, 1], "format": "~g"}},
       "color": {"datum": "High volatility regime",
         "scale": {"domain": ["Term yield volatility regime", "High volatility regime"], "range": ["#00ffff", "#0000cd"]},
         "legend": {"orient": "none", "legendX": 170.5, "legendY": 6, "direction": "vertical", "title": null, "symbolSize": 324, "symbolType": "M-2,-0.85H2V0.85H-2Z", "rowPadding": 1.5, "labelOffset": 10.5,
           "encode": {"symbols": {"update": {
             "shape": {"value": "M-2,-0.85H2V0.85H-2Z"},
             "fill": {"signal": "datum.value === 'High volatility regime' ? '#0000cd' : '#00ffff'"},
             "stroke": {"value": "transparent"},
             "strokeWidth": {"value": 0},
             "opacity": {"value": 1}
           }}}}}}},
    {"mark": {"type": "area", "clip": true, "opacity": 1},
     "encoding": {
       "x": {"field": "t", "type": "quantitative", "scale": {"domain": [1929.0, 2009.5], "nice": false, "zero": false}, "axis": {"orient": "top", "labels": false, "values": [1930, 1940, 1950, 1960, 1970, 1980, 1990, 2000]}},
       "y": {"field": "ty", "type": "quantitative", "scale": {"domain": [0, 1], "nice": false}, "axis": {"orient": "right", "labels": false, "values": [0, 0.5, 1]}},
       "color": {"datum": "Term yield volatility regime"}}},
    {"mark": {"type": "line", "clip": true, "color": "#0000cd", "strokeWidth": 1.3},
     "encoding": {
       "x": {"field": "t", "type": "quantitative", "scale": {"domain": [1929.0, 2009.5], "nice": false, "zero": false}, "axis": null},
       "y": {"field": "hv", "type": "quantitative", "scale": {"domain": [0, 1], "nice": false}, "axis": null}}}
  ]
}
],
"spacing": 14,
"resolve": {"scale": {"x": "independent", "y": "independent", "color": "independent"}, "legend": {"color": "independent"}}
}
